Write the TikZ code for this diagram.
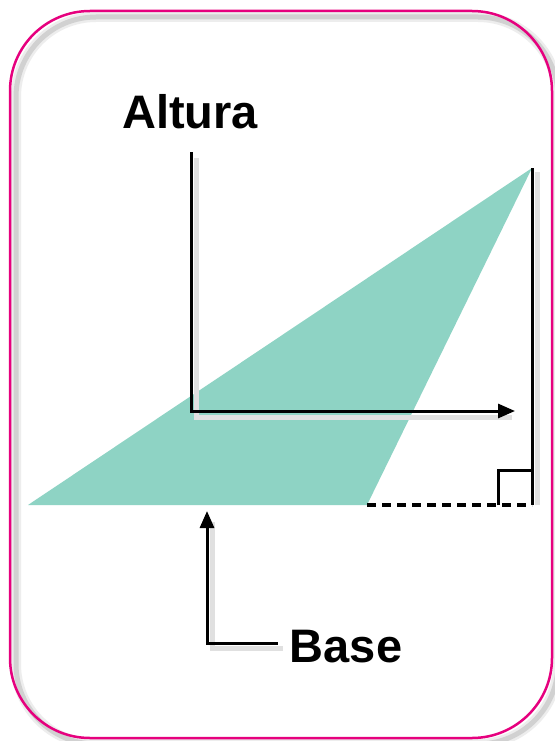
\documentclass[tikz,border=0pt]{standalone}
\usepackage{fontspec}
\setmainfont{Liberation Sans}
\usetikzlibrary{arrows.meta}
\definecolor{framepink}{RGB}{230,0,126}
\definecolor{tealfill}{RGB}{142,211,196}
\begin{document}
\begin{tikzpicture}[x=1pt,y=-1pt,
  label/.style={font=\fontsize{47}{56}\selectfont\bfseries, inner sep=2pt},
  pointer/.style={line width=3pt, -{Triangle[length=17pt,width=14pt]}},
  shade/.style={line width=5pt, black!12},
  edge/.style={line width=3pt, black}]
\useasboundingbox (0,0) rectangle (554,741);
\fill[white] (0,0) rectangle (554,741);
% frame with soft drop shadow
\draw[black!7, line width=10pt, rounded corners=80pt] (16,17) rectangle (558,744);
\draw[black!18, line width=5pt, rounded corners=80pt] (16,17) rectangle (558,744);
\draw[framepink, line width=2.5pt, rounded corners=80pt] (10,11) rectangle (552,738);
% triangle
\coordinate (A) at (28,505);
\coordinate (T) at (532,168);
\coordinate (C) at (367,505);
\coordinate (F) at (532,505);
\fill[tealfill] (A) -- (T) -- (C) -- cycle;
% shadows of lines
\draw[shade] (537,172) -- (537,505);
\draw[shade] (196,158) -- (196,417) -- (512,417);
\draw[shade] (212,522) -- (212,648) -- (283,648);
% height and base extension
\draw[edge] (T) -- (F);
\draw[edge, line width=3.5pt, dash pattern=on 9pt off 6pt] (C) -- (F);
\draw[edge] (498,505) -- (498,470) -- (532,470);
% labels
\node[label] (alt) at (190,112) {Altura};
\node[label] (base) at (346,647) {Base};
\coordinate (altstart) at (191,152);
\coordinate (altend) at (515,411);
\coordinate (basetip) at (207,511);
\draw[pointer] (altstart) |- (altend);
\draw[pointer] ([xshift=-10pt]base.west |- 0,643) -| (basetip);
\end{tikzpicture}
\end{document}
